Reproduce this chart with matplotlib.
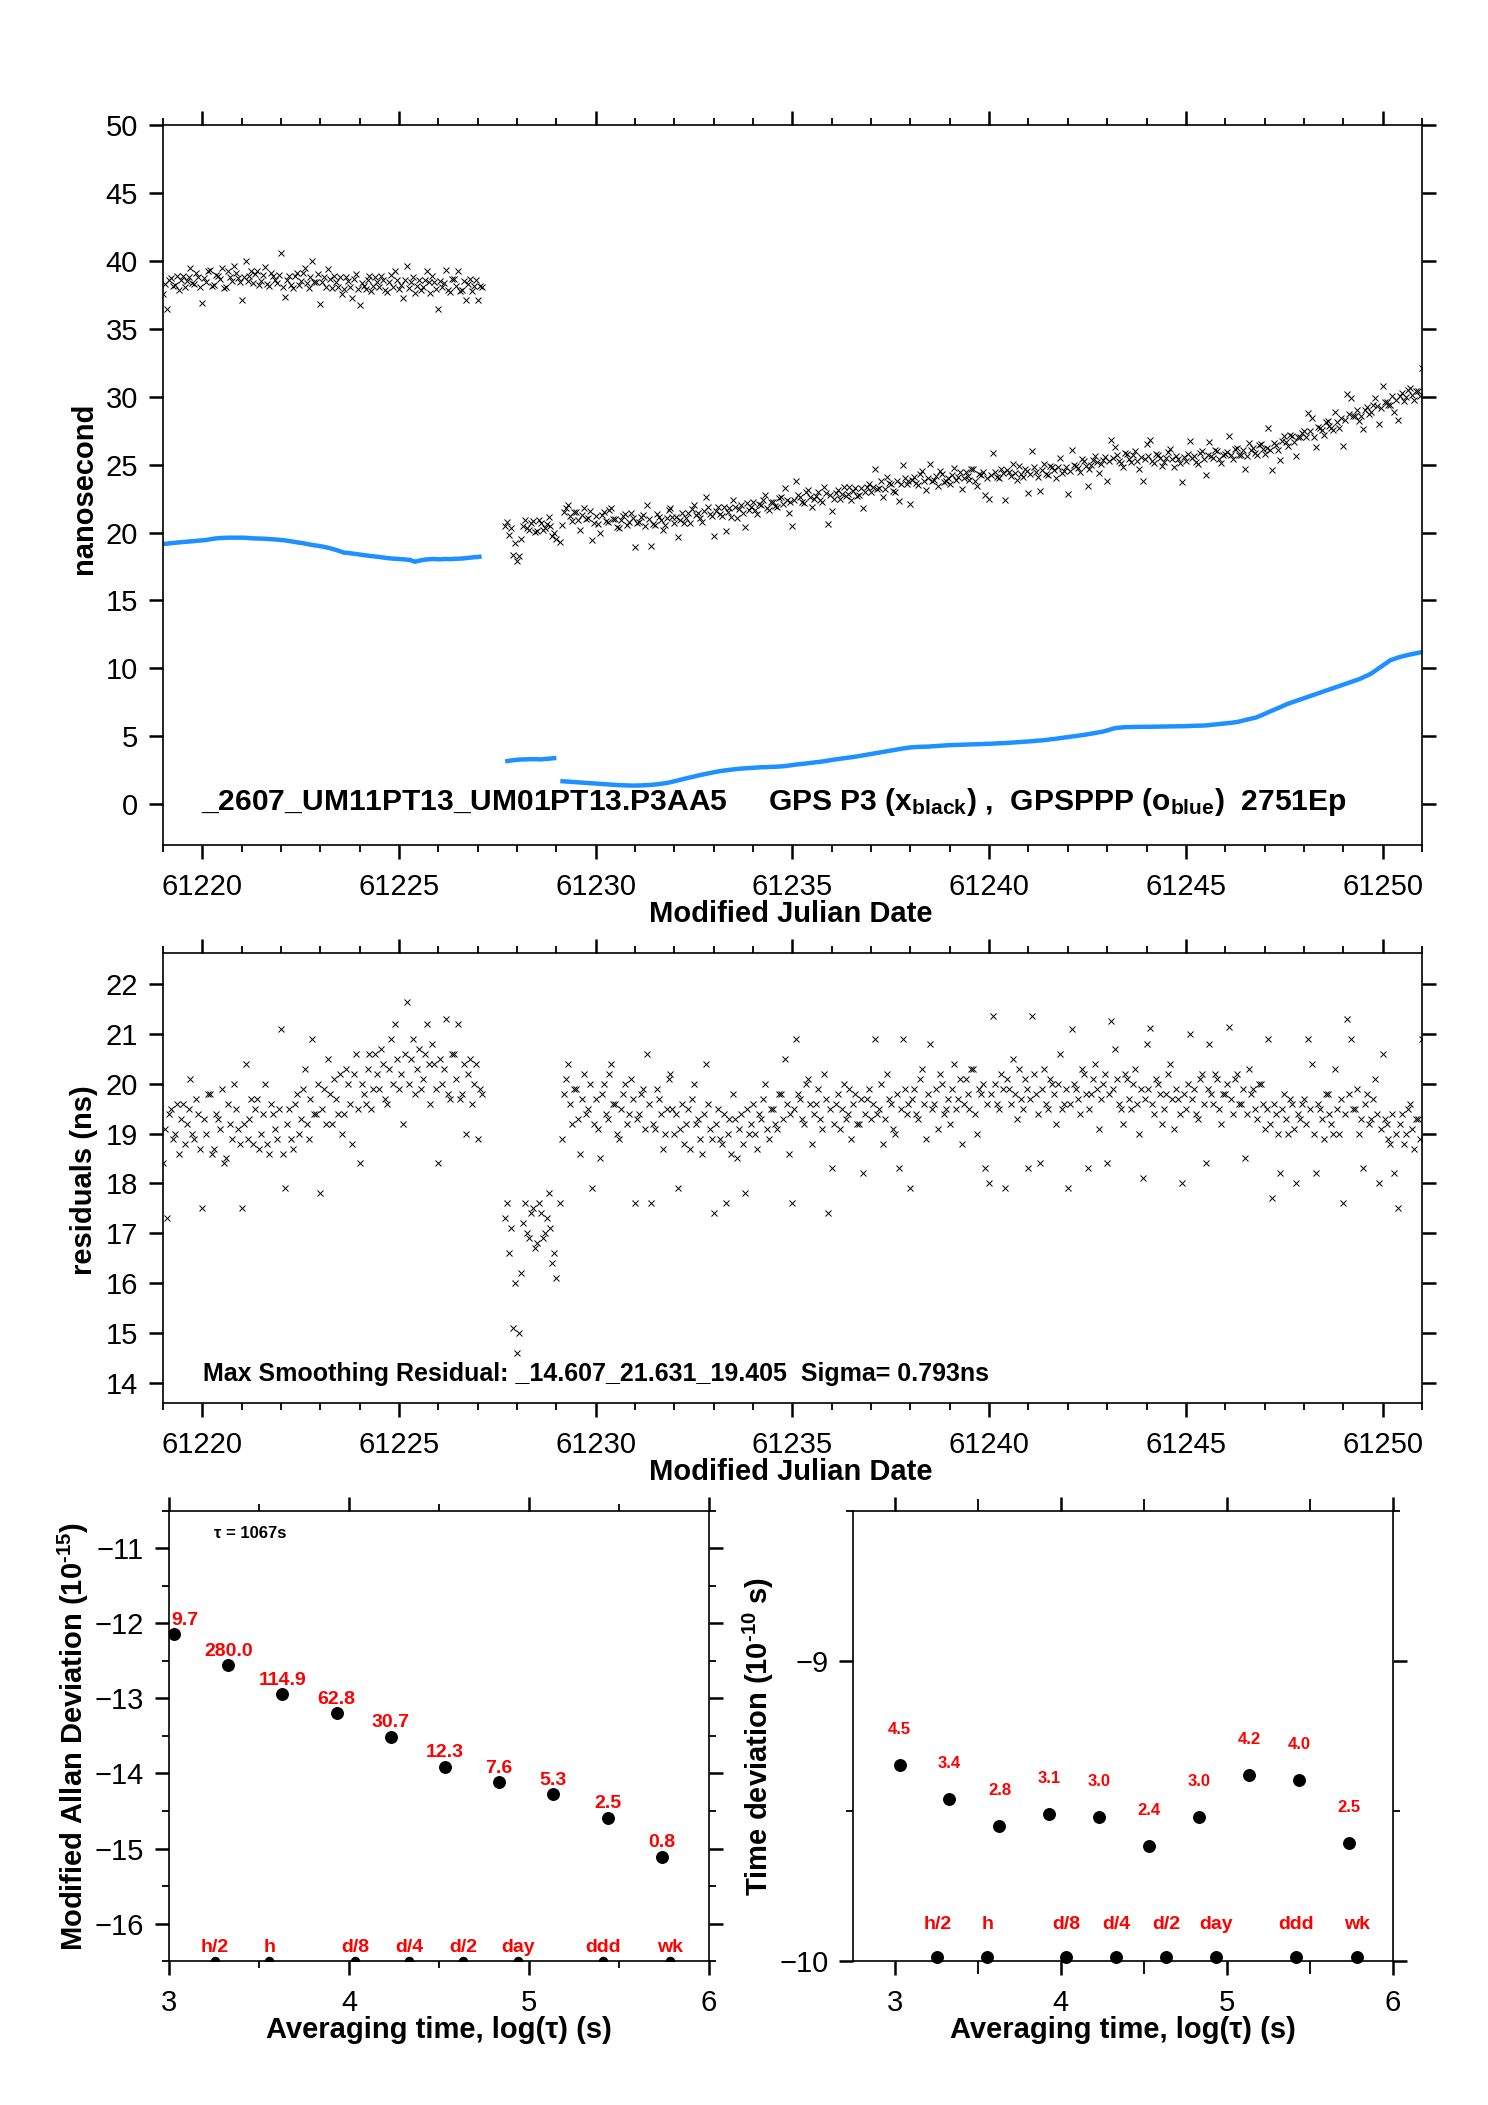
import numpy as np
import matplotlib
matplotlib.use('Agg')
import matplotlib.pyplot as plt
from matplotlib.ticker import FixedLocator

plt.rcParams['font.family'] = ['Liberation Sans', 'DejaVu Sans']
plt.rcParams['mathtext.default'] = 'regular'
plt.rcParams['axes.linewidth'] = 1.2

# ---------------- data ----------------
STEP = 0.05                                  # epoch spacing (day)
seg_start = [61219.0, 61227.7, 61229.1]      # MJD of first epoch of each segment

# GPSPPP (blue) per epoch, ns
blue1 = [19.15, 19.17, 19.18, 19.20, 19.21, 19.23, 19.24, 19.26, 19.27, 19.29, 19.30, 19.31, 19.32, 19.34, 19.35, 19.36, 19.37, 19.39, 19.40, 19.41,
         19.42, 19.44, 19.45, 19.48, 19.50, 19.53, 19.55, 19.57, 19.58, 19.59, 19.60, 19.61, 19.61, 19.62, 19.62, 19.62, 19.62, 19.62, 19.62, 19.62,
         19.62, 19.62, 19.61, 19.60, 19.59, 19.58, 19.57, 19.57, 19.56, 19.56, 19.55, 19.55, 19.54, 19.53, 19.52, 19.51, 19.50, 19.49, 19.48, 19.47,
         19.45, 19.44, 19.42, 19.40, 19.38, 19.36, 19.33, 19.31, 19.28, 19.26, 19.24, 19.22, 19.19, 19.16, 19.13, 19.11, 19.08, 19.06, 19.04, 19.02,
         19.00, 18.97, 18.94, 18.91, 18.88, 18.84, 18.80, 18.76, 18.72, 18.67, 18.62, 18.57, 18.52, 18.51, 18.50, 18.48, 18.45, 18.44, 18.42, 18.40,
         18.38, 18.36, 18.34, 18.32, 18.30, 18.28, 18.26, 18.25, 18.23, 18.22, 18.20, 18.18, 18.16, 18.14, 18.12, 18.11, 18.09, 18.08, 18.07, 18.06,
         18.05, 18.04, 18.03, 18.02, 18.00, 17.99, 17.97, 17.90, 17.85, 17.88, 17.92, 17.95, 17.98, 18.00, 18.02, 18.03, 18.04, 18.05, 18.05, 18.04,
         18.03, 18.03, 18.04, 18.05, 18.05, 18.05, 18.04, 18.05, 18.06, 18.07, 18.07, 18.08, 18.09, 18.10, 18.12, 18.13, 18.15, 18.16, 18.18, 18.19,
         18.20, 18.22, 18.24]
blue2 = [3.15, 3.17, 3.20, 3.22, 3.24, 3.25, 3.27, 3.28, 3.29, 3.30, 3.30, 3.30, 3.31, 3.31,
         3.32, 3.31, 3.31, 3.30, 3.30, 3.31, 3.33, 3.34, 3.35, 3.36, 3.38, 3.39, 3.40]
blue3 = [1.70, 1.69, 1.68, 1.67, 1.66, 1.65, 1.64, 1.63, 1.62, 1.61, 1.60, 1.59, 1.58, 1.57, 1.56, 1.55, 1.54, 1.53,
         1.52, 1.51, 1.50, 1.49, 1.48, 1.47, 1.46, 1.45, 1.44, 1.43, 1.42, 1.41, 1.40, 1.40, 1.39, 1.39, 1.38, 1.38, 1.37, 1.37,
         1.37, 1.37, 1.38, 1.38, 1.39, 1.40, 1.40, 1.41, 1.42, 1.43, 1.45, 1.46, 1.48, 1.50, 1.52, 1.54, 1.56, 1.59, 1.62, 1.65,
         1.69, 1.72, 1.76, 1.80, 1.83, 1.87, 1.90, 1.94, 1.97, 2.00, 2.04, 2.07, 2.11, 2.14, 2.17, 2.20, 2.23, 2.26, 2.29, 2.32,
         2.35, 2.38, 2.40, 2.43, 2.45, 2.47, 2.49, 2.51, 2.53, 2.55, 2.56, 2.58, 2.59, 2.61, 2.62, 2.63, 2.64, 2.65, 2.66, 2.67,
         2.68, 2.69, 2.70, 2.71, 2.72, 2.72, 2.73, 2.73, 2.74, 2.74, 2.75, 2.75, 2.76, 2.77, 2.78, 2.79, 2.80, 2.82, 2.84, 2.86,
         2.88, 2.90, 2.92, 2.94, 2.95, 2.97, 2.98, 3.00, 3.02, 3.03, 3.05, 3.07, 3.09, 3.10, 3.12, 3.14, 3.16, 3.18, 3.21, 3.23,
         3.26, 3.28, 3.30, 3.32, 3.34, 3.36, 3.38, 3.40, 3.42, 3.44, 3.46, 3.48, 3.50, 3.52, 3.55, 3.57, 3.60, 3.62, 3.65, 3.67,
         3.70, 3.72, 3.75, 3.77, 3.80, 3.82, 3.85, 3.87, 3.90, 3.92, 3.95, 3.97, 4.00, 4.02, 4.05, 4.07, 4.10, 4.12, 4.14, 4.16,
         4.18, 4.19, 4.20, 4.21, 4.22, 4.22, 4.23, 4.23, 4.24, 4.24, 4.25, 4.26, 4.27, 4.28, 4.29, 4.30, 4.31, 4.32, 4.33, 4.34,
         4.35, 4.35, 4.36, 4.36, 4.37, 4.37, 4.38, 4.38, 4.39, 4.39, 4.40, 4.40, 4.41, 4.41, 4.42, 4.42, 4.43, 4.43, 4.44, 4.44,
         4.45, 4.45, 4.46, 4.47, 4.48, 4.48, 4.49, 4.49, 4.50, 4.51, 4.52, 4.53, 4.54, 4.55, 4.56, 4.57, 4.58, 4.59, 4.60, 4.61,
         4.62, 4.63, 4.64, 4.65, 4.67, 4.68, 4.69, 4.70, 4.72, 4.73, 4.75, 4.77, 4.79, 4.80, 4.82, 4.84, 4.86, 4.88, 4.90, 4.92,
         4.94, 4.96, 4.98, 5.00, 5.02, 5.04, 5.06, 5.08, 5.10, 5.12, 5.15, 5.17, 5.20, 5.22, 5.25, 5.27, 5.30, 5.32, 5.35, 5.39,
         5.43, 5.47, 5.52, 5.56, 5.60, 5.62, 5.63, 5.64, 5.66, 5.67, 5.68, 5.68, 5.68, 5.68, 5.69, 5.69, 5.69, 5.69, 5.70, 5.70,
         5.70, 5.70, 5.70, 5.70, 5.71, 5.71, 5.71, 5.71, 5.72, 5.72, 5.72, 5.72, 5.73, 5.73, 5.73, 5.73, 5.74, 5.74, 5.74, 5.74,
         5.75, 5.75, 5.76, 5.76, 5.77, 5.77, 5.78, 5.78, 5.79, 5.79, 5.80, 5.81, 5.83, 5.84, 5.86, 5.87, 5.89, 5.90, 5.92, 5.93,
         5.95, 5.96, 5.98, 5.99, 6.01, 6.03, 6.05, 6.08, 6.12, 6.15, 6.19, 6.22, 6.26, 6.29, 6.33, 6.36, 6.40, 6.46, 6.52, 6.58,
         6.65, 6.71, 6.78, 6.84, 6.90, 6.96, 7.02, 7.08, 7.15, 7.21, 7.28, 7.34, 7.40, 7.45, 7.50, 7.55, 7.60, 7.65, 7.70, 7.75,
         7.80, 7.85, 7.90, 7.95, 8.00, 8.05, 8.10, 8.15, 8.20, 8.25, 8.30, 8.35, 8.40, 8.45, 8.50, 8.55, 8.60, 8.65, 8.70, 8.75,
         8.80, 8.85, 8.90, 8.95, 9.00, 9.05, 9.10, 9.15, 9.20, 9.26, 9.33, 9.40, 9.46, 9.53, 9.60, 9.70, 9.80, 9.90, 10.00, 10.10,
         10.20, 10.30, 10.40, 10.50, 10.60, 10.65, 10.70, 10.75, 10.80, 10.84, 10.88, 10.92, 10.95, 10.99, 11.02, 11.05, 11.08, 11.11, 11.14, 11.17,
         11.20]

# residuals = GPS P3 (black) - GPSPPP (blue), ns, per epoch
resid1 = [18.4, 19.1, 17.3, 19.4, 19.5, 18.9, 19.0, 19.6, 18.6, 19.3, 19.6, 18.8, 19.2, 19.5, 20.1, 19.0, 18.9, 19.7, 19.4, 18.7,
          17.5, 19.3, 19.0, 19.8, 19.8, 18.6, 18.7, 19.4, 19.3, 19.1, 19.9, 18.4, 18.5, 19.6, 19.2, 18.9, 20.0, 19.5, 19.1, 18.8,
          17.5, 19.2, 20.4, 18.9, 19.3, 19.7, 18.8, 19.5, 19.7, 18.7, 19.0, 19.4, 20.0, 18.8, 18.6, 19.6, 19.4, 19.1, 18.9, 19.5,
          21.1, 18.6, 17.9, 19.2, 19.5, 18.9, 18.7, 19.6, 19.8, 19.0, 19.3, 19.9, 20.3, 19.2, 18.9, 19.7, 20.9, 19.4, 19.4, 20.0,
          17.8, 19.5, 19.9, 19.2, 20.5, 19.8, 19.2, 20.1, 19.7, 19.4, 20.2, 19.0, 19.4, 20.3, 20.0, 19.6, 18.8, 20.2, 20.6, 19.5,
          18.4, 20.0, 19.8, 19.6, 20.3, 20.6, 19.5, 19.9, 20.6, 20.2, 19.9, 20.7, 20.4, 19.7, 19.6, 20.3, 20.9, 20.0, 21.2, 20.5,
          19.9, 20.2, 19.2, 20.6, 21.63, 20.0, 20.5, 20.9, 19.8, 20.3, 20.7, 19.9, 20.1, 20.6, 21.2, 20.4, 19.6, 20.8, 20.4, 19.9,
          18.4, 20.5, 20.0, 20.3, 21.3, 19.8, 19.7, 20.6, 20.6, 20.1, 21.2, 19.7, 19.8, 20.4, 19.0, 20.2, 20.5, 19.6, 20.0, 20.4,
          18.9, 19.9, 19.8]
resid2 = [17.3, 17.6, 16.6, 17.1, 15.1, 16.0, 14.61, 15.0, 16.2, 17.2, 17.6, 17.0, 16.9, 17.4,
          17.5, 16.7, 16.8, 17.6, 17.4, 16.9, 17.0, 17.3, 17.8, 17.1, 16.4, 16.6, 16.1]
resid3 = [17.6, 18.9, 19.8, 20.1, 20.4, 19.6, 19.2, 19.9, 19.9, 19.3, 18.6, 19.7, 20.2, 19.4, 19.5, 20.0, 17.9, 19.2,
          19.7, 19.1, 18.5, 19.8, 20.0, 19.4, 19.3, 20.2, 20.4, 19.6, 19.6, 19.0, 18.9, 19.5, 19.8, 20.0, 19.2, 19.4, 20.1, 19.7,
          17.6, 19.3, 19.4, 19.8, 19.9, 19.1, 20.6, 19.6, 17.6, 19.2, 19.1, 19.9, 19.7, 19.4, 18.7, 19.0, 19.5, 20.1, 20.2, 19.5,
          19.0, 19.4, 17.9, 19.1, 19.6, 18.8, 19.2, 19.5, 18.7, 19.7, 20.0, 19.2, 19.3, 18.9, 18.6, 19.4, 20.4, 19.6, 19.1, 18.9,
          17.4, 19.2, 19.5, 18.9, 18.8, 19.4, 17.6, 19.0, 19.3, 18.6, 19.8, 19.3, 18.5, 19.1, 19.4, 18.8, 17.8, 19.5, 19.0, 19.2,
          19.6, 19.0, 18.7, 19.4, 19.3, 19.7, 20.0, 19.1, 18.9, 19.5, 19.5, 19.2, 19.1, 19.8, 19.8, 19.3, 20.5, 19.6, 18.6, 19.4,
          17.6, 19.5, 20.9, 19.8, 19.7, 19.3, 19.2, 20.0, 20.1, 19.6, 18.8, 19.4, 19.6, 19.9, 19.3, 19.1, 20.2, 19.7, 17.4, 19.5,
          18.3, 19.2, 19.6, 19.8, 19.1, 19.5, 20.0, 19.3, 19.4, 19.9, 18.9, 19.6, 19.8, 19.2, 19.2, 19.7, 18.2, 19.4, 19.7, 19.9,
          19.3, 19.6, 20.9, 19.4, 19.5, 20.0, 18.8, 19.3, 20.2, 19.7, 19.6, 19.1, 19.0, 19.8, 18.3, 19.5, 20.9, 19.9, 19.4, 19.6,
          17.9, 19.7, 19.9, 19.4, 19.3, 20.1, 20.3, 19.6, 18.9, 19.8, 20.8, 19.5, 19.6, 19.9, 19.1, 20.2, 20.0, 19.4, 19.5, 19.7,
          19.2, 19.9, 20.4, 19.5, 19.7, 20.1, 18.8, 19.6, 20.1, 19.8, 19.5, 20.3, 20.3, 19.4, 19.0, 19.9, 19.8, 20.0, 18.3, 19.6,
          18.0, 19.8, 21.36, 20.0, 19.6, 19.5, 20.2, 19.9, 17.9, 20.1, 19.9, 19.6, 20.5, 19.8, 19.3, 20.3, 19.7, 19.5, 20.1, 19.9,
          18.3, 19.7, 21.36, 20.2, 19.8, 19.4, 18.4, 19.9, 20.3, 19.6, 19.5, 20.1, 20.0, 19.8, 19.2, 20.0, 20.6, 19.5, 19.6, 19.9,
          17.9, 19.6, 21.1, 20.0, 19.9, 19.7, 19.4, 20.3, 20.2, 19.8, 18.3, 19.5, 19.8, 20.1, 20.4, 19.9, 19.1, 19.7, 20.0, 20.2,
          18.4, 19.8, 21.26, 19.9, 20.7, 20.1, 19.6, 19.5, 19.2, 20.2, 20.1, 19.7, 19.5, 20.0, 20.3, 19.6, 19.0, 19.9, 18.1, 19.7,
          20.8, 19.9, 21.12, 19.6, 19.4, 20.1, 20.0, 19.8, 19.2, 19.5, 19.8, 20.2, 20.4, 19.7, 19.1, 19.9, 19.7, 19.4, 18.0, 19.8,
          19.5, 20.0, 21.0, 19.7, 19.9, 19.4, 19.3, 20.1, 20.2, 19.6, 18.4, 19.9, 20.8, 19.8, 19.6, 20.2, 20.1, 19.5, 19.2, 19.8,
          19.8, 20.0, 21.13, 19.7, 19.4, 20.1, 20.2, 19.6, 19.6, 19.9, 18.5, 19.4, 20.3, 19.8, 19.9, 19.5, 19.3, 20.0, 20.0, 19.6,
          19.1, 19.5, 20.9, 19.2, 17.7, 19.6, 19.4, 19.0, 18.2, 19.5, 19.8, 19.3, 19.0, 19.7, 19.6, 19.1, 18.0, 19.4, 19.3, 19.6,
          19.7, 19.2, 20.9, 19.5, 20.4, 19.0, 18.2, 19.6, 19.5, 19.3, 18.9, 19.8, 19.8, 19.4, 19.2, 19.0, 20.3, 19.5, 19.0, 19.7,
          17.6, 19.4, 21.29, 19.8, 20.9, 19.5, 19.5, 19.9, 19.0, 19.3, 18.3, 19.6, 19.8, 19.2, 19.3, 19.7, 20.1, 19.4, 18.0, 19.1,
          20.6, 19.3, 19.2, 18.9, 18.8, 19.4, 18.2, 19.0, 17.5, 19.2, 19.4, 18.8, 19.0, 19.5, 19.6, 19.1, 18.7, 19.3, 19.3, 18.9,
          20.9]

mjd_ticks = [61220, 61225, 61230, 61235, 61240, 61245, 61250]
ns_ticks = [0, 5, 10, 15, 20, 25, 30, 35, 40, 45, 50]
res_ticks = [14, 15, 16, 17, 18, 19, 20, 21, 22]

title_top = r'_2607_UM11PT13_UM01PT13.P3AA5     GPS P3 (x$_{black}$) ,  GPSPPP (o$_{blue}$)  2751Ep'
title_res = 'Max Smoothing Residual: _14.607_21.631_19.405  Sigma= 0.793ns'

logtau = [3.028, 3.329, 3.630, 3.931, 4.232, 4.533, 4.834, 5.135, 5.436, 5.737]
adev = [-12.14, -12.56, -12.94, -13.20, -13.51, -13.91, -14.12, -14.28, -14.59, -15.11]
adev_lab = ['9.7', '280.0', '114.9', '62.8', '30.7', '12.3', '7.6', '5.3', '2.5', '0.8']
tdev = [-9.347, -9.461, -9.549, -9.509, -9.519, -9.615, -9.520, -9.381, -9.397, -9.607]
tdev_lab = ['4.5', '3.4', '2.8', '3.1', '3.0', '2.4', '3.0', '4.2', '4.0', '2.5']
ref_names = ['h/2', 'h', 'd/8', 'd/4', 'd/2', 'day', 'ddd', 'wk']
ref_sec = [1800, 3600, 10800, 21600, 43200, 86400, 259200, 604800]
tau0_text = 'τ = 1067s'
HY = '\u2010'
adev_ylabel = r'Modified Allan Deviation (10$^{' + HY + '15}$)'
tdev_ylabel = r'Time deviation (10$^{' + HY + '10}$ s)'

# ---------------- figure ----------------
BLUE = '#1E90FF'
RED = '#FF0000'
TICK_FS = 21
LAB_FS = 21

fig = plt.figure(figsize=(14.88, 21.05), dpi=100)
ax1 = fig.add_axes([0.1095, 0.5986, 0.8461, 0.3420])
ax2 = fig.add_axes([0.1095, 0.3335, 0.8461, 0.2138])
ax3 = fig.add_axes([0.1136, 0.0684, 0.3629, 0.2138])
ax4 = fig.add_axes([0.5735, 0.0684, 0.3626, 0.2138])


def style(ax):
    ax.tick_params(which='both', direction='out', top=True, right=True,
                   labeltop=False, labelright=False, labelsize=TICK_FS)
    ax.tick_params(which='major', length=10, width=1.8)
    ax.tick_params(which='minor', length=5, width=1.3)
    ax.tick_params(axis='x', which='both', pad=10)
    ax.tick_params(axis='y', which='both', pad=8)


segs = []
for s0, b, r in zip(seg_start, [blue1, blue2, blue3], [resid1, resid2, resid3]):
    b = np.asarray(b)
    r = np.asarray(r)
    t = s0 + STEP * np.arange(len(b))
    segs.append((t, b, r))

# ---- top panel ----
for t, b, r in segs:
    ax1.plot(t, b + r, linestyle='none', marker='x', color='black',
             markersize=5.0, markeredgewidth=0.7)
    ax1.plot(t, b, color=BLUE, lw=3.2, solid_capstyle='butt')
ax1.set_xlim(61219, 61251)
ax1.set_ylim(-3, 50)
ax1.set_xticks(mjd_ticks)
ax1.set_xticklabels([str(v) for v in mjd_ticks])
ax1.xaxis.set_minor_locator(FixedLocator(np.arange(61219, 61252, 1)))
ax1.set_yticks(ns_ticks)
ax1.set_yticklabels([str(v) for v in ns_ticks])
style(ax1)
ax1.text(61219.97, -0.4, title_top, fontsize=21.6, fontweight='bold',
         ha='left', va='baseline')

# ---- residual panel ----
for t, b, r in segs:
    ax2.plot(t, r, linestyle='none', marker='x', color='black',
             markersize=5.0, markeredgewidth=0.7)
ax2.set_xlim(61219, 61251)
ax2.set_ylim(13.6, 22.62)
ax2.set_xticks(mjd_ticks)
ax2.set_xticklabels([str(v) for v in mjd_ticks])
ax2.xaxis.set_minor_locator(FixedLocator(np.arange(61219, 61252, 1)))
ax2.set_yticks(res_ticks)
ax2.set_yticklabels([str(v) for v in res_ticks])
style(ax2)
ax2.text(61220.03, 14.04, title_res, fontsize=18, fontweight='bold',
         ha='left', va='baseline')

# ---- ADEV panel ----
ref_x = np.log10(ref_sec)
ax3.plot(logtau, adev, linestyle='none', marker='o', color='black', markersize=8.3)
for i, (x, y, l) in enumerate(zip(logtau, adev, adev_lab)):
    if i == 0:
        ax3.annotate(l, (3.0, y), xytext=(2, 10), textcoords='offset points',
                     ha='left', va='center', color=RED, fontsize=14, fontweight='bold')
    else:
        ax3.annotate(l, (x, y), xytext=(0, 10), textcoords='offset points',
                     ha='center', va='center', color=RED, fontsize=14, fontweight='bold')
ax3.plot(ref_x, np.zeros(len(ref_x)), linestyle='none', marker='o', color='black',
         markersize=5.8, transform=ax3.get_xaxis_transform())
for x, n in zip(ref_x, ref_names):
    ax3.annotate(n, (x, 0), xycoords=ax3.get_xaxis_transform(), xytext=(0, 9.6),
                 textcoords='offset points', ha='center', va='center',
                 color=RED, fontsize=14, fontweight='bold')
ax3.set_xlim(3, 6)
ax3.set_ylim(-16.5, -10.5)
ax3.set_xticks([3, 4, 5, 6])
ax3.set_xticklabels(['3', '4', '5', '6'])
ax3.xaxis.set_minor_locator(FixedLocator([3.5, 4.5, 5.5]))
ax3.set_yticks([-16, -15, -14, -13, -12, -11])
ax3.set_yticklabels(['\u221216', '\u221215', '\u221214', '\u221213', '\u221212', '\u221211'])
ax3.yaxis.set_minor_locator(FixedLocator([-16.5, -15.5, -14.5, -13.5, -12.5, -11.5, -10.5]))
style(ax3)
ax3.text(0.083, 0.9496, tau0_text, transform=ax3.transAxes, fontsize=12,
         fontweight='bold', ha='left', va='center')

# ---- TDEV panel ----
ax4.plot(logtau, tdev, linestyle='none', marker='o', color='black', markersize=8.3)
for x, y, l in zip(logtau, tdev, tdev_lab):
    ax4.annotate(l, (x, y), xytext=(0, 25.5), textcoords='offset points',
                 ha='center', va='center', color=RED, fontsize=12, fontweight='bold')
ax4.plot(ref_x, np.full(len(ref_x), 0.008), linestyle='none', marker='o', color='black',
         markersize=8.3, transform=ax4.get_xaxis_transform(), clip_on=False)
for x, n in zip(ref_x, ref_names):
    ax4.annotate(n, (x, 0), xycoords=ax4.get_xaxis_transform(), xytext=(0, 26),
                 textcoords='offset points', ha='center', va='center',
                 color=RED, fontsize=14, fontweight='bold')
ax4.set_xlim(2.75, 6.0)
ax4.set_ylim(-10, -8.5)
ax4.set_xticks([3, 4, 5, 6])
ax4.set_xticklabels(['3', '4', '5', '6'])
ax4.xaxis.set_minor_locator(FixedLocator([3.5, 4.5, 5.5]))
ax4.set_yticks([-10, -9])
ax4.set_yticklabels(['\u221210', '\u22129'])
ax4.yaxis.set_minor_locator(FixedLocator([-9.5, -8.5]))
style(ax4)
ax4.tick_params(axis='x', which='minor', length=9, width=1.3)

# ---- axis labels ----
fig.text(0.0565, 0.7682, 'nanosecond', rotation=90, ha='center', va='center',
         fontsize=LAB_FS, fontweight='bold')
fig.text(0.5313, 1 - 922 / 2105, 'Modified Julian Date', ha='center', va='baseline',
         fontsize=LAB_FS, fontweight='bold')
fig.text(0.0565, 1 - 1180 / 2105, 'residuals (ns)', rotation=90, ha='center', va='center',
         fontsize=LAB_FS, fontweight='bold')
fig.text(0.5313, 1 - 1480 / 2105, 'Modified Julian Date', ha='center', va='baseline',
         fontsize=LAB_FS, fontweight='bold')
fig.text(0.0494, 0.1753, adev_ylabel, rotation=90,
         ha='center', va='center', fontsize=LAB_FS, fontweight='bold')
fig.text(0.2950, 1 - 2038 / 2105, 'Averaging time, log(τ) (s)', ha='center',
         va='baseline', fontsize=LAB_FS, fontweight='bold')
fig.text(0.5094, 0.1753, tdev_ylabel, rotation=90,
         ha='center', va='center', fontsize=LAB_FS, fontweight='bold')
fig.text(0.7547, 1 - 2038 / 2105, 'Averaging time, log(τ) (s)', ha='center',
         va='baseline', fontsize=LAB_FS, fontweight='bold')

fig.savefig('out.png', dpi=100)
